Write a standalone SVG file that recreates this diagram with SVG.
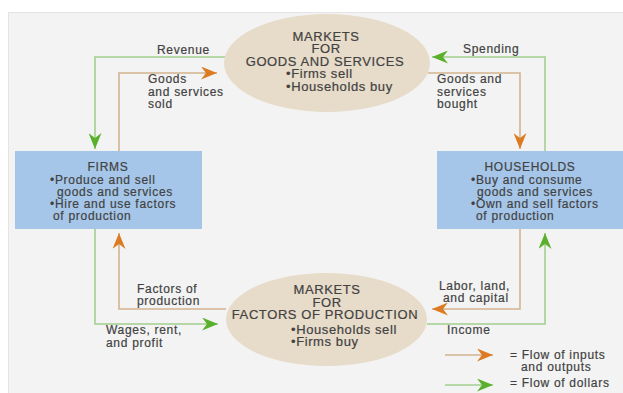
<svg xmlns="http://www.w3.org/2000/svg" width="623" height="393" viewBox="0 0 623 393">
<defs>
<style>
text{font-family:"Liberation Sans",Arial,sans-serif;fill:#424242;stroke:#424242;stroke-width:0.2px;}
.lbl{font-size:12px;letter-spacing:0.7px;}
.mkt{font-size:13px;letter-spacing:0.6px;}
.ctr{text-anchor:middle;}
.g{fill:none;stroke:#a3cf8e;stroke-width:1.6;}
.o{fill:none;stroke:#d2b48f;stroke-width:1.6;}
.ell{fill:#e7dbc9;}
.box{fill:#a5c6e9;}
</style>
<marker id="ga" markerUnits="userSpaceOnUse" viewBox="0 0 16 13" markerWidth="16" markerHeight="13" refX="16" refY="6.5" orient="auto">
<path d="M0,0 L16,6.5 L0,13 L5,6.5 Z" fill="#5aaf2c"/>
</marker>
<marker id="oa" markerUnits="userSpaceOnUse" viewBox="0 0 16 13" markerWidth="16" markerHeight="13" refX="16" refY="6.5" orient="auto">
<path d="M0,0 L16,6.5 L0,13 L5,6.5 Z" fill="#dd7b22"/>
</marker>
</defs>
<rect x="0" y="0" width="623" height="393" fill="#ffffff"/>
<rect x="8.5" y="12.5" width="620" height="390" fill="#f3f3f3" stroke="#e4e4e4" stroke-width="1"/>

<g id="connectors">
<path class="g" d="M225,57 H95 V149" marker-end="url(#ga)"/>
<path class="o" d="M119,151 V73 H217" marker-end="url(#oa)"/>
<path class="g" d="M545,151 V57 H432" marker-end="url(#ga)"/>
<path class="o" d="M428,73 H520 V149" marker-end="url(#oa)"/>
<path class="o" d="M520,229 V309 H432" marker-end="url(#oa)"/>
<path class="o" d="M226,309 H119 V233" marker-end="url(#oa)"/>
<path class="g" d="M95,229 V324 H218" marker-end="url(#ga)"/>
<path class="g" d="M427,324 H545 V233" marker-end="url(#ga)"/>
</g>

<g id="market-goods">
<ellipse class="ell" cx="327" cy="63" rx="103" ry="49"/>
<text class="mkt ctr" x="326" y="41">MARKETS</text>
<text class="mkt ctr" x="326" y="53">FOR</text>
<text class="mkt ctr" x="325" y="66">GOODS AND SERVICES</text>
<text class="mkt" x="286" y="78">•Firms sell</text>
<text class="mkt" x="286" y="90.5">•Households buy</text>
</g>

<g id="market-factors">
<ellipse class="ell" cx="326.5" cy="319.5" rx="100.5" ry="46.5"/>
<text class="mkt ctr" x="327" y="294">MARKETS</text>
<text class="mkt ctr" x="327" y="307">FOR</text>
<text class="mkt ctr" x="325" y="319">FACTORS OF PRODUCTION</text>
<text class="mkt" x="291" y="334">•Households sell</text>
<text class="mkt" x="291" y="346">•Firms buy</text>
</g>

<g id="firms">
<rect class="box" x="15" y="151" width="187" height="78"/>
<text class="lbl ctr" x="108" y="171">FIRMS</text>
<text class="lbl" x="50" y="183.5">•Produce and sell</text>
<text class="lbl" x="57" y="196">goods and services</text>
<text class="lbl" x="50" y="208">•Hire and use factors</text>
<text class="lbl" x="53" y="220">of production</text>
</g>

<g id="households">
<rect class="box" x="437" y="151" width="190" height="78"/>
<text class="lbl ctr" x="530" y="171">HOUSEHOLDS</text>
<text class="lbl" x="471" y="183.5">•Buy and consume</text>
<text class="lbl" x="477" y="196">goods and services</text>
<text class="lbl" x="471" y="208">•Own and sell factors</text>
<text class="lbl" x="476" y="220">of production</text>
</g>

<g id="labels">
<text class="lbl" x="157" y="54">Revenue</text>
<text class="lbl" x="463" y="53">Spending</text>
<text class="lbl" x="148" y="83">Goods</text>
<text class="lbl" x="148" y="95.5">and services</text>
<text class="lbl" x="148" y="108">sold</text>
<text class="lbl" x="437" y="83">Goods and</text>
<text class="lbl" x="437" y="95.5">services</text>
<text class="lbl" x="437" y="108">bought</text>
<text class="lbl" x="137" y="293">Factors of</text>
<text class="lbl" x="137" y="305">production</text>
<text class="lbl" x="106" y="334">Wages, rent,</text>
<text class="lbl" x="106" y="347">and profit</text>
<text class="lbl" x="439" y="290">Labor, land,</text>
<text class="lbl" x="443" y="302">and capital</text>
<text class="lbl" x="447" y="334">Income</text>
</g>

<g id="legend">
<path class="o" d="M445,355 H493" marker-end="url(#oa)"/>
<path class="g" d="M445,385 H493" marker-end="url(#ga)"/>
<text class="lbl" x="510" y="359">= Flow of inputs</text>
<text class="lbl" x="521" y="371">and outputs</text>
<text class="lbl" x="510" y="387">= Flow of dollars</text>
</g>
</svg>
